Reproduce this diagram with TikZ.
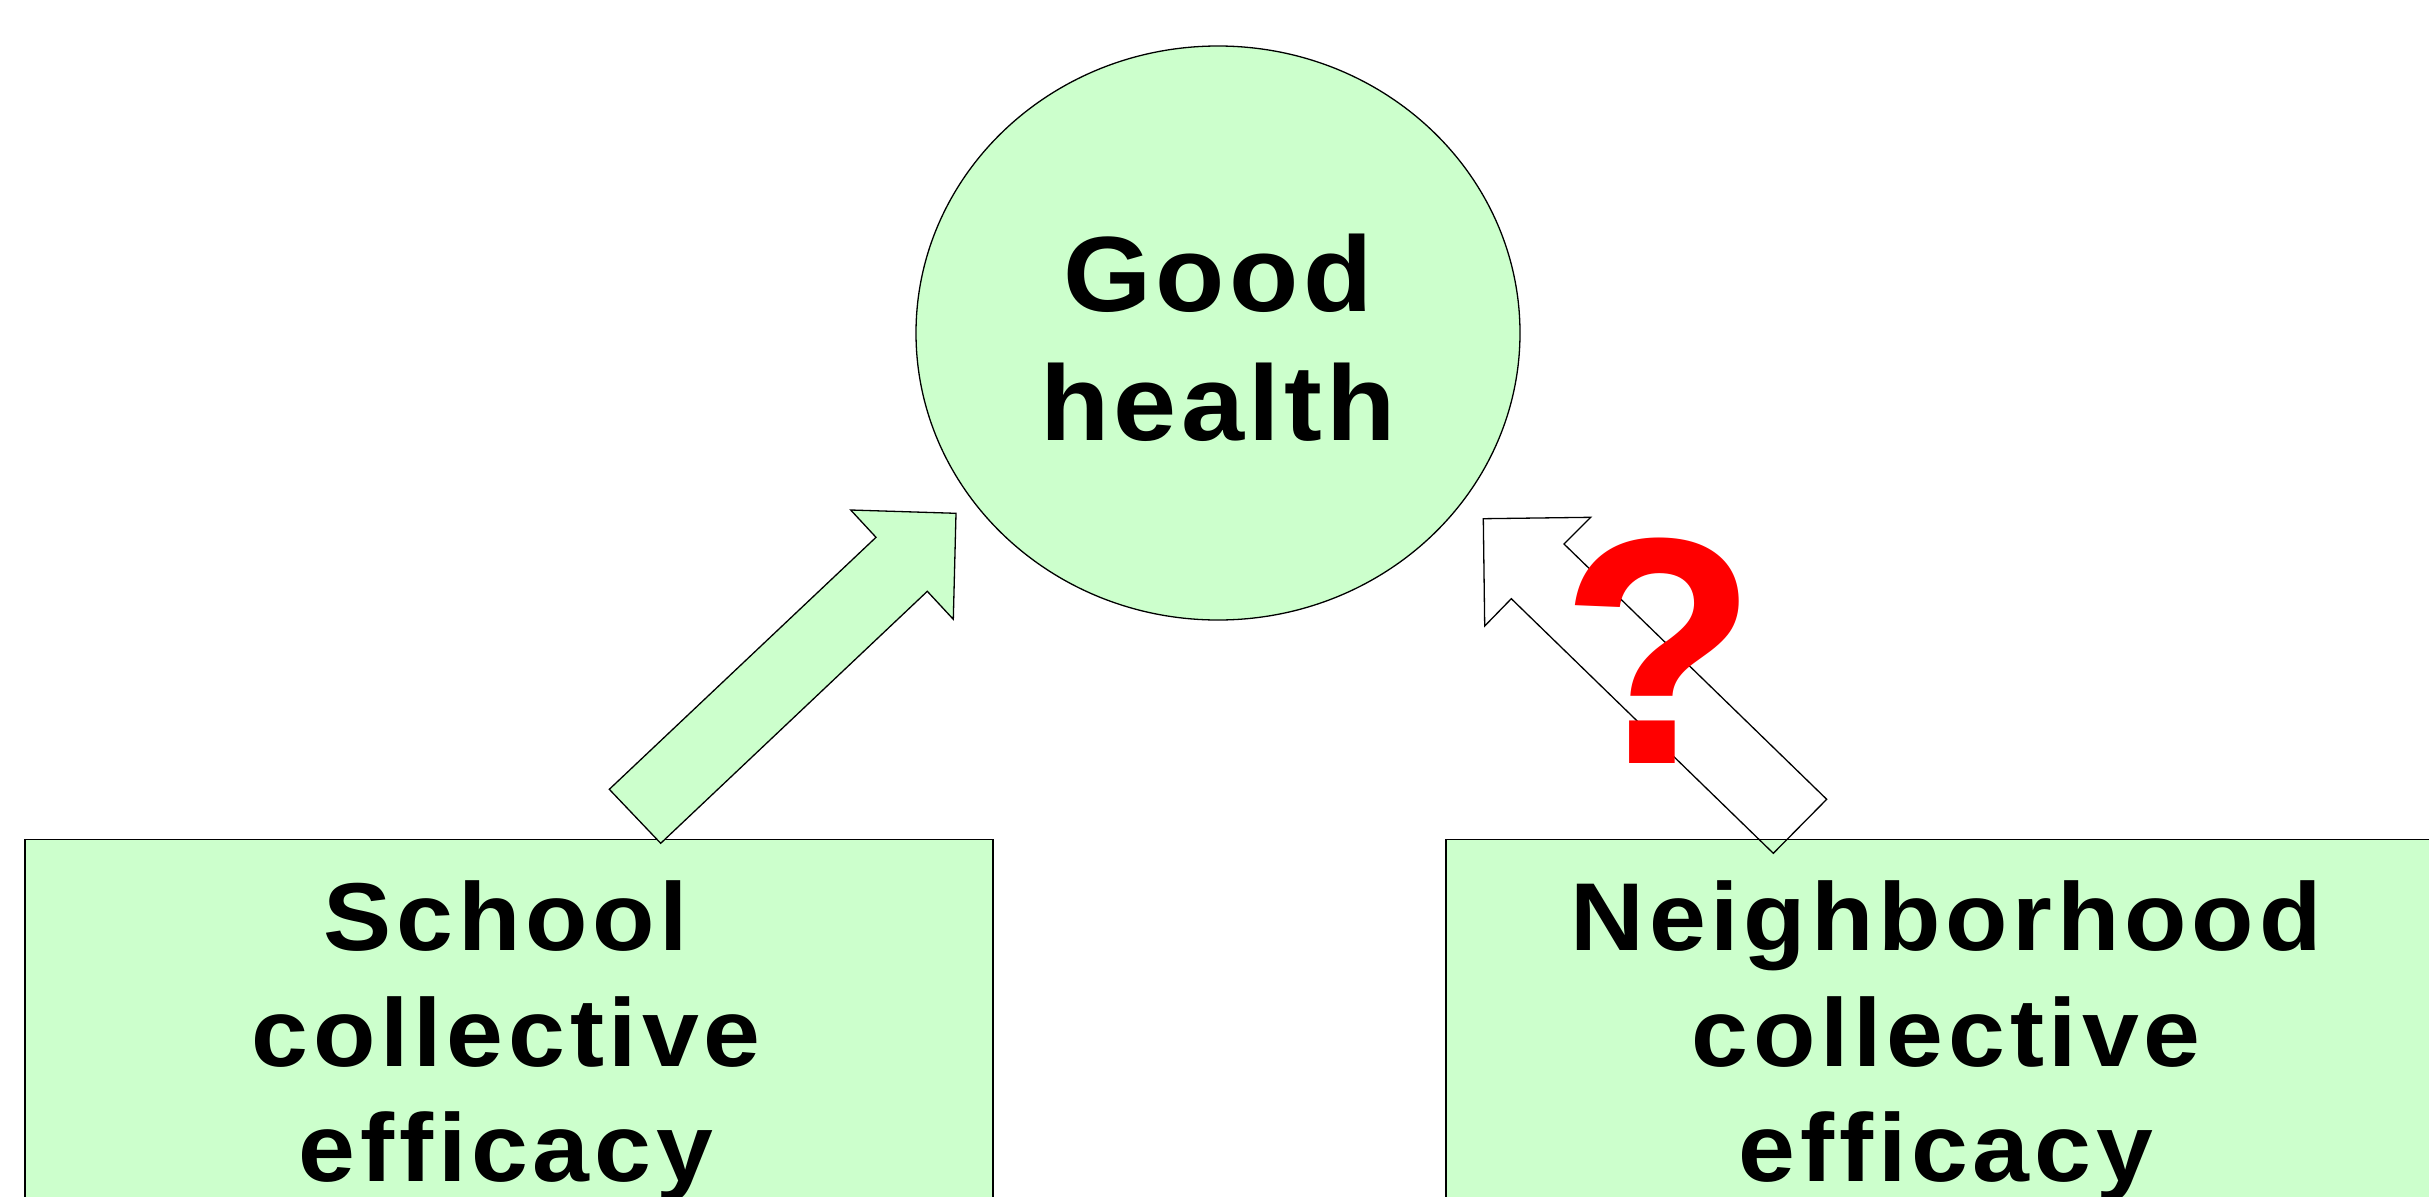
\documentclass[tikz,border=0pt]{standalone}
\usepackage{fontspec}
\setmainfont{Liberation Sans}
\newfontfamily\labelfont[FakeStretch=1.06, LetterSpace=4]{Liberation Sans Bold}
\newfontfamily\boxfont[FakeStretch=1.06, LetterSpace=5]{Liberation Sans Bold}
\newfontfamily\queryfont{Liberation Sans Bold}
\usetikzlibrary{shapes.geometric}
\definecolor{mint}{RGB}{204,255,204}
\definecolor{alertred}{RGB}{255,0,0}

\begin{document}
\begin{tikzpicture}[x=1pt,y=-1pt,
  panel/.style={draw=black, line width=1.7pt, fill=mint, rectangle, inner sep=0pt, anchor=north west},
  oval/.style={draw=black, line width=1.3pt, fill=mint, ellipse, inner sep=0pt},
  bigtext/.style={font=\labelfont\fontsize{107}{128.3}\selectfont, align=center, inner sep=0pt, anchor=base},
  boxtext/.style={font=\boxfont\fontsize{96.4}{115.5}\selectfont, align=center, inner sep=0pt, anchor=base},
  blockarrow/.style={draw=black, line width=1.3pt, line join=miter},
]
\useasboundingbox (0,0) rectangle (2429,1197);
\clip (0,0) rectangle (2429,1197);

% outcome (anchored on the baseline of the last line)
\node[oval, minimum width=604pt, minimum height=574pt] (health) at (1218,333) {};
\node[bigtext] (healthtxt) at (1218,440) {Good\\health};

% the two sources of efficacy
\node[panel, minimum width=968pt, minimum height=420pt] (school) at (24,838.7) {};
\node[panel, minimum width=1002pt, minimum height=420pt] (neigh) at (1445.3,838.7) {};
\node[boxtext] (schooltxt) at (506,1181.7) {School\\collective\\efficacy};
\node[boxtext] (neightxt) at (1946,1181.7) {Neighborhood\\collective\\efficacy};

% established link: school -> health
\draw[blockarrow, fill=mint]
  (660.7,843.3) -- (609.3,789.3) -- (876,537.3) -- (850.7,510)
  -- (956,513.3) -- (953.3,619.3) -- (927.3,591.3) -- cycle;

% uncertain link: neighborhood -> health
\draw[blockarrow]
  (1773.3,853.3) -- (1826.7,799.3) -- (1564,544) -- (1590.7,517.3)
  -- (1483.3,518.7) -- (1484.7,626) -- (1511.3,598.7) -- cycle;

\node[font=\queryfont\fontsize{323}{323}\selectfont, text=alertred, inner sep=0pt, anchor=base] (query) at (1659,763) {?};
\end{tikzpicture}
\end{document}
